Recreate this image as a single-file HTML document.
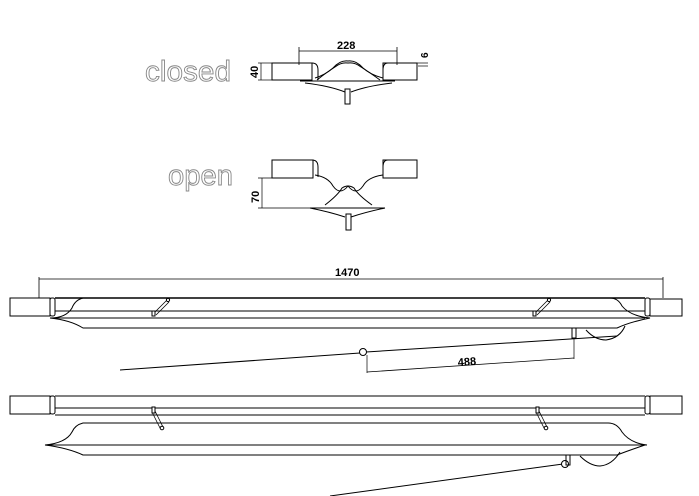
<!DOCTYPE html>
<html><head><style>body{margin:0;background:#fff}svg{display:block}</style></head><body>
<svg width="699" height="496" viewBox="0 0 699 496" xmlns="http://www.w3.org/2000/svg" fill="none" stroke="#000" stroke-width="1" font-family="Liberation Sans, sans-serif">
<text x="145" y="81" font-size="29" textLength="86" lengthAdjust="spacingAndGlyphs" fill="#fff" stroke="#888" stroke-width="0.9">closed</text>
<text x="168" y="185" font-size="29" textLength="65" lengthAdjust="spacingAndGlyphs" fill="#fff" stroke="#888" stroke-width="0.9">open</text>
<line x1="299" y1="51" x2="397" y2="51" stroke-width="0.8"/>
<line x1="299" y1="47" x2="299" y2="65" stroke-width="0.8"/>
<line x1="397" y1="47" x2="397" y2="65" stroke-width="0.8"/>
<text x="337" y="49" font-size="11" font-weight="bold" fill="#000" stroke="none">228</text>
<line x1="258" y1="63" x2="272" y2="63" stroke-width="0.7"/><line x1="258" y1="80" x2="272" y2="80" stroke-width="0.7"/>
<line x1="261" y1="63" x2="261" y2="80" stroke-width="0.7"/>
<text x="0" y="0" font-size="11" font-weight="bold" fill="#000" stroke="none" transform="translate(258,78) rotate(-90)">40</text>
<line x1="415" y1="63" x2="428" y2="63" stroke-width="0.7"/><line x1="418" y1="66" x2="428" y2="66" stroke-width="0.7"/>
<text x="0" y="0" font-size="10" font-weight="bold" fill="#000" stroke="none" transform="translate(428,58) rotate(-90)">6</text>
<rect x="272" y="63" width="40" height="17"/>
<rect x="383" y="63" width="34" height="17"/>
<path d="M300 63 H312 Q318 63 318 70 V80 M397 63 H388 Q383 63 383 70 V80"/>
<path d="M315 78 Q325 75 333 68 Q340 60 348 61 Q356 60 363 68 Q371 75 383 78"/>
<path d="M317 80 Q327 72 335 67 Q341 62 348 63 Q355 62 361 67 Q369 72 380 80"/>
<line x1="300" y1="81" x2="395" y2="81"/>
<path d="M305 83 Q330 86 345 92 M351 92 Q366 86 392 83"/>
<rect x="345" y="89" width="5" height="15"/>
<rect x="272" y="160" width="41" height="18"/>
<rect x="383" y="160" width="34" height="18"/>
<path d="M300 160 H312 Q318 160 318 167 V177 M397 160 H388 Q383 160 383 167 V177"/>
<path d="M315 175 Q328 177 333 186 Q340 196 348 186 Q356 196 363 186 Q368 177 383 175"/>
<path d="M325 205 Q338 195 342 188 Q348 184 354 188 Q358 195 372 205"/>
<line x1="310" y1="208" x2="385" y2="208"/>
<path d="M310 208 Q330 212 345 217 M351 217 Q366 212 385 208"/>
<rect x="346" y="214" width="5" height="16"/>
<line x1="258" y1="178" x2="305" y2="178" stroke-width="0.7"/><line x1="258" y1="208" x2="310" y2="208" stroke-width="0.7"/>
<line x1="262" y1="178" x2="262" y2="208" stroke-width="0.7"/>
<text x="0" y="0" font-size="11" font-weight="bold" fill="#000" stroke="none" transform="translate(259,203) rotate(-90)">70</text>
<line x1="39" y1="279" x2="663" y2="279" stroke-width="0.8"/>
<line x1="39" y1="277" x2="39" y2="298" stroke-width="0.8"/>
<line x1="663" y1="277" x2="663" y2="298" stroke-width="0.8"/>
<text x="335" y="276" font-size="11" font-weight="bold" fill="#000" stroke="none">1470</text>
<rect x="10" y="298" width="40" height="18"/>
<rect x="50" y="298" width="5" height="18" rx="2"/>
<rect x="645" y="298" width="5" height="18" rx="2"/>
<rect x="650" y="299" width="32" height="17"/>
<line x1="55" y1="298" x2="645" y2="298" stroke-width="1.6"/>
<line x1="55" y1="311" x2="645" y2="311"/>
<line x1="55" y1="318" x2="645" y2="318"/>
<path d="M83 298 Q75 300 72 308 Q66 318 50 318 Q70 320 83 328 H617 Q630 322 650 318 Q630 316 622 306 Q618 298 610 298"/>
<line x1="154" y1="313" x2="167" y2="300" stroke-width="0.8"/><line x1="156" y1="315" x2="169" y2="302" stroke-width="0.8"/>
<circle cx="168" cy="300" r="1.6" fill="#fff"/><rect x="152" y="311" width="3" height="5" fill="#fff"/>
<line x1="535" y1="313" x2="548" y2="300" stroke-width="0.8"/><line x1="537" y1="315" x2="550" y2="302" stroke-width="0.8"/>
<circle cx="549" cy="300" r="1.6" fill="#fff"/><rect x="533" y="311" width="3" height="5" fill="#fff"/>
<path d="M586 330 Q595 340 606 340 Q620 338 625 326"/>
<line x1="120" y1="370" x2="360" y2="353"/>
<line x1="366" y1="352" x2="617" y2="336"/>
<circle cx="363" cy="352" r="3.5" fill="#fff"/>
<rect x="572" y="328" width="4" height="10"/>
<line x1="367" y1="355" x2="367" y2="373" stroke-width="0.7"/>
<line x1="574" y1="338" x2="574" y2="359" stroke-width="0.7"/>
<line x1="367" y1="372" x2="574" y2="358" stroke-width="0.8"/>
<text x="0" y="0" font-size="11" font-weight="bold" fill="#000" stroke="none" transform="translate(458,366) rotate(-4)">488</text>
<rect x="10" y="396" width="40" height="18"/>
<rect x="50" y="396" width="5" height="18" rx="2"/>
<rect x="645" y="396" width="5" height="18" rx="2"/>
<rect x="650" y="396" width="32" height="18"/>
<line x1="55" y1="396" x2="645" y2="396"/>
<line x1="55" y1="408" x2="645" y2="408"/>
<line x1="55" y1="415" x2="645" y2="415"/>
<line x1="152" y1="412" x2="160" y2="428" stroke-width="0.8"/><line x1="155" y1="411" x2="163" y2="427" stroke-width="0.8"/>
<rect x="152" y="407" width="3" height="6" fill="#fff"/><circle cx="162" cy="428" r="1.8" fill="#fff"/>
<line x1="536" y1="412" x2="544" y2="428" stroke-width="0.8"/><line x1="539" y1="411" x2="547" y2="427" stroke-width="0.8"/>
<rect x="536" y="407" width="3" height="6" fill="#fff"/><circle cx="546" cy="428" r="1.8" fill="#fff"/>
<path d="M83 423 Q75 425 72 432 Q66 443 45 445 H647 Q630 443 622 432 Q617 423 608 423 Z"/>
<path d="M45 445 Q68 448 83 455 H617 Q630 450 645 445"/>
<path d="M580 456 Q590 466 600 466 Q612 465 620 452"/>
<line x1="330" y1="496" x2="563" y2="464"/>
<circle cx="565" cy="464" r="3.5" fill="#fff"/>
<rect x="566" y="455" width="4" height="10"/>
</svg>
</body></html>
